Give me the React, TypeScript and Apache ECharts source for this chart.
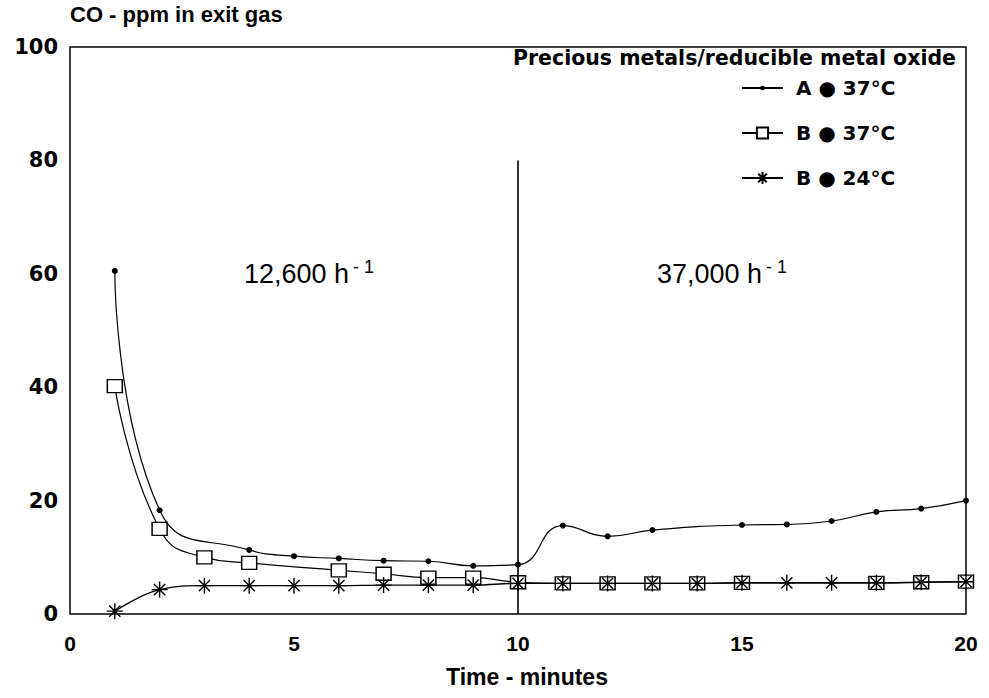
import React, { useEffect, useRef } from "react";
import * as echarts from "echarts";

// Time (minutes) and CO (ppm) for each series
const aTime = [1, 2, 4, 5, 6, 7, 8, 9, 10, 11, 12, 13, 15, 16, 17, 18, 19, 20];
const aCO = [60.5, 18.3, 11.3, 10.2, 9.8, 9.4, 9.3, 8.5, 8.7, 15.6, 13.7, 14.8, 15.7, 15.8, 16.4, 18.0, 18.6, 20.0];

const b37Time = [1, 2, 3, 4, 6, 7, 8, 9, 10, 11, 12, 13, 14, 15, 18, 19, 20];
const b37CO = [40.2, 15.0, 10.0, 9.0, 7.7, 7.1, 6.4, 6.4, 5.6, 5.4, 5.4, 5.4, 5.4, 5.5, 5.5, 5.6, 5.7];

const b24Time = [1, 2, 3, 4, 5, 6, 7, 8, 9, 10, 11, 12, 13, 14, 15, 16, 17, 18, 19, 20];
const b24CO = [0.5, 4.3, 5.0, 5.0, 5.0, 5.0, 5.1, 5.1, 5.1, 5.4, 5.4, 5.4, 5.4, 5.4, 5.5, 5.5, 5.5, 5.5, 5.6, 5.7];

const seriesNames = ["A \u25CF 37\u00B0C", "B \u25CF 37\u00B0C", "B \u25CF 24\u00B0C"];
const xTicks = [0, 20, 5];
const yTicks = [0, 100, 20];
const dividerTime = 10;
const dividerTop = 80;

const pair = (xs: number[], ys: number[]) => xs.map((x, i) => [x, ys[i]]);

const STAR = "path://M0,-10L0,10M-10,0L10,0M-7,-7L7,7M-7,7L7,-7";
const FONT = "'Liberation Sans', Arial, sans-serif";
const WIDE = "'DejaVu Sans', 'Liberation Sans', sans-serif";

const legendText = { color: "#000", fontFamily: WIDE, fontWeight: "bold", fontSize: 20, lineHeight: 22, padding: [0, 0, 0, 8] };
const legendRow = (name: string, top: number, itemHeight: number) => ({
  orient: "vertical",
  left: 741,
  top,
  padding: 0,
  itemWidth: 41,
  itemHeight,
  data: [name],
  textStyle: legendText,
});

export default function App() {
  const ref = useRef<HTMLDivElement>(null);
  useEffect(() => {
    if (!ref.current) return;
    const chart = echarts.init(ref.current, undefined, { renderer: "svg" });
    chart.setOption({
      animation: false,
      backgroundColor: "#fff",
      grid: { left: 70, right: 23, top: 47, bottom: 84, show: true, borderColor: "#000", borderWidth: 1.5, backgroundColor: "transparent" },
      xAxis: {
        type: "value",
        min: xTicks[0],
        max: xTicks[1],
        interval: xTicks[2],
        axisLine: { show: false },
        axisTick: { show: false },
        splitLine: { show: false },
        axisLabel: { color: "#000", fontFamily: FONT, fontWeight: "bold", fontSize: 21, margin: 19 },
        name: "Time - minutes",
        nameLocation: "middle",
        nameGap: 51,
        nameTextStyle: { color: "#000", fontFamily: FONT, fontWeight: "bold", fontSize: 23, padding: [0, 0, 0, 18] },
      },
      yAxis: {
        type: "value",
        min: yTicks[0],
        max: yTicks[1],
        interval: yTicks[2],
        axisLine: { show: false },
        axisTick: { show: false },
        splitLine: { show: false },
        axisLabel: { color: "#000", fontFamily: WIDE, fontWeight: "bold", fontSize: 21, margin: 12 },
      },
      legend: [
        legendRow(seriesNames[0], 77, 6),
        legendRow(seriesNames[1], 122, 14),
        legendRow(seriesNames[2], 167, 15),
      ],
      graphic: [
        { type: "text", left: 70, top: 3, style: { text: "CO - ppm in exit gas", fill: "#000", font: `bold 22px ${FONT}` } },
        { type: "text", right: 33, top: 47, style: { text: "Precious metals/reducible metal oxide", fill: "#000", font: `bold 20.5px ${WIDE}` } },
        {
          type: "text",
          left: 244,
          top: 258,
          style: {
            text: "12,600 h{sup|- 1}",
            fill: "#000",
            font: `27px ${FONT}`,
            rich: { sup: { fontSize: 18, fontFamily: FONT, verticalAlign: "top", padding: [0, 0, 14, 4] } },
          },
        },
        {
          type: "text",
          left: 657,
          top: 258,
          style: {
            text: "37,000 h{sup|- 1}",
            fill: "#000",
            font: `27px ${FONT}`,
            rich: { sup: { fontSize: 18, fontFamily: FONT, verticalAlign: "top", padding: [0, 0, 14, 4] } },
          },
        },
      ],
      series: [
        {
          name: seriesNames[0],
          type: "line",
          data: pair(aTime, aCO),
          smooth: 0.5,
          symbol: "circle",
          symbolSize: 6,
          itemStyle: { color: "#000" },
          lineStyle: { color: "#000", width: 1.2 },
          z: 3,
          markLine: {
            silent: true,
            symbol: "none",
            label: { show: false },
            lineStyle: { color: "#000", width: 1.6, type: "solid" },
            data: [[{ coord: [dividerTime, 0] }, { coord: [dividerTime, dividerTop] }]],
          },
        },
        {
          name: seriesNames[1],
          type: "line",
          data: pair(b37Time, b37CO),
          smooth: 0.5,
          symbol: "rect",
          symbolSize: [15, 13],
          itemStyle: { color: "#fff", borderColor: "#000", borderWidth: 1.4 },
          lineStyle: { color: "#000", width: 1.2 },
          z: 4,
        },
        {
          name: seriesNames[2],
          type: "line",
          data: pair(b24Time, b24CO),
          smooth: 0.4,
          symbol: STAR,
          symbolSize: 16,
          itemStyle: { color: "#000", borderColor: "#000", borderWidth: 1.4 },
          lineStyle: { color: "#000", width: 1.4 },
          z: 5,
        },
      ],
    });
    return () => chart.dispose();
  }, []);
  return <div ref={ref} style={{ width: 989, height: 698, position: "absolute", left: 0, top: 0 }} />;
}
